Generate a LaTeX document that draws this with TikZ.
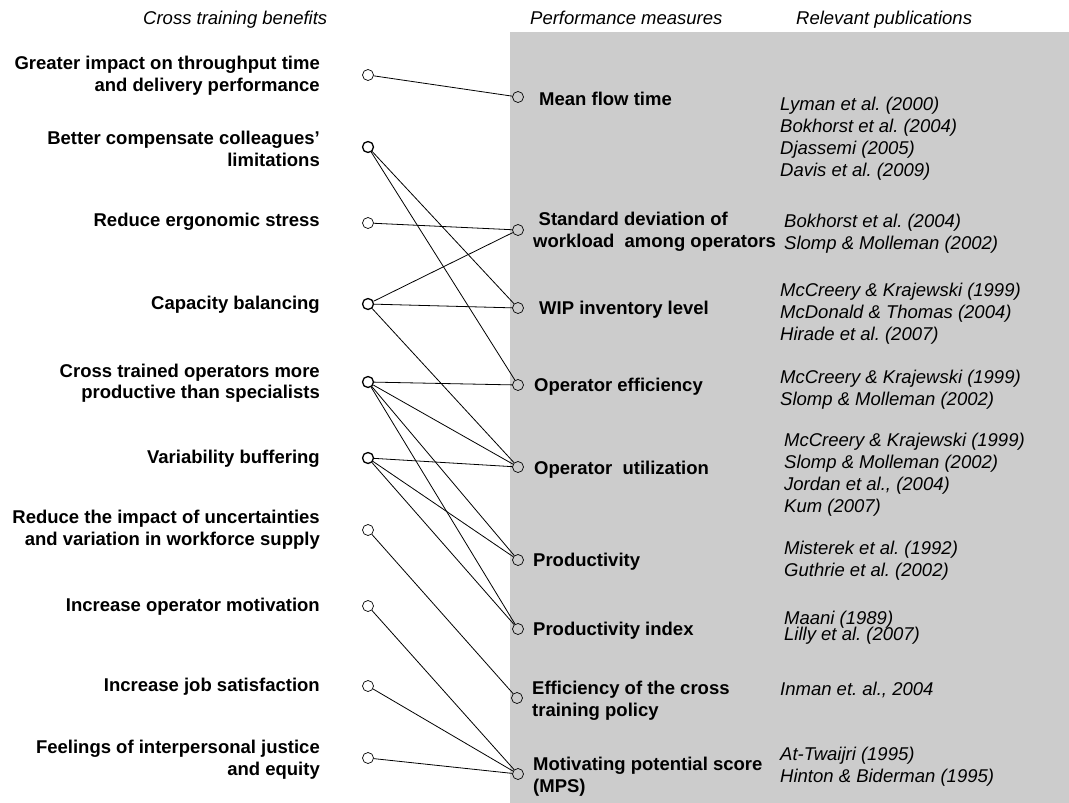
\documentclass[tikz,border=0pt]{standalone}
\usepackage{fontspec}
\setmainfont{Liberation Sans}
\definecolor{panel}{RGB}{204,204,204}
\begin{document}
\frenchspacing
\begin{tikzpicture}[x=1pt,y=-1pt,
  dot/.style={circle,draw,line width=0.7pt,minimum size=11pt,inner sep=0pt},
  hub/.style={dot,line width=1.3pt},
  lab/.style={font=\fontsize{18.5}{21.5}\selectfont\bfseries\frenchspacing,inner sep=0pt,align=right,anchor=east,yshift=-2pt},
  meas/.style={font=\fontsize{18.5}{22}\selectfont\bfseries\frenchspacing,inner sep=0pt,align=left,anchor=west,yshift=-2.5pt},
  pub/.style={font=\fontsize{18.5}{22}\selectfont\itshape\frenchspacing,inner sep=0pt,align=left,anchor=west,yshift=-2.8pt},
  hdr/.style={font=\fontsize{18.5}{22}\selectfont\itshape,inner sep=0pt,anchor=base west},
  link/.style={line width=0.8pt}]
\useasboundingbox (0,0) rectangle (1069,803);
\fill[panel] (510,32) rectangle (1069,803);

% headers
\node[hdr] (h1) at (143,24.5) {Cross training benefits};
\node[hdr] (h2) at (530,24.5) {Performance measures};
\node[hdr] (h3) at (796,24.5) {Relevant publications};

% benefits
\node[lab] (tb1) at (320,73.5) {Greater impact on throughput time\\and delivery performance};
\node[lab] (tb2) at (320,147) {Better compensate colleagues’\\limitations};
\node[lab] (tb3) at (320,220) {Reduce ergonomic stress};
\node[lab] (tb4) at (320,303) {Capacity balancing};
\node[lab] (tb5) at (320,381) {Cross trained operators more\\productive than specialists};
\node[lab] (tb6) at (320,457) {Variability buffering};
\node[lab] (tb7) at (320,527.5) {Reduce the impact of uncertainties\\and variation in workforce supply};
\node[lab] (tb8) at (320,605) {Increase operator motivation};
\node[lab] (tb9) at (320,685) {Increase job satisfaction};
\node[lab] (tb10) at (320,757.5) {Feelings of interpersonal justice\\and equity};

\node[dot] (b1) at (368,75) {};
\node[hub] (b2) at (368,147) {};
\node[dot] (b3) at (368,223) {};
\node[hub] (b4) at (368,304) {};
\node[hub] (b5) at (368,382) {};
\node[hub] (b6) at (368,458) {};
\node[dot] (b7) at (368,530) {};
\node[dot] (b8) at (368,606) {};
\node[dot] (b9) at (368,686) {};
\node[dot] (b10) at (368,758) {};

% measures
\node[dot] (m1) at (518,97) {};
\node[dot] (m2) at (518,230) {};
\node[dot] (m3) at (518,308) {};
\node[dot] (m4) at (518,385) {};
\node[dot] (m5) at (518,467) {};
\node[dot] (m6) at (518,560) {};
\node[dot] (m7) at (518,629) {};
\node[dot] (m8) at (517,698) {};
\node[dot] (m9) at (518,774) {};

\node[meas] (tm1) at (539,96) {Mean flow time};
\node[meas] (tm2) at (533,229) {\hspace*{5.5pt}Standard deviation of\\workload\ \ among operators};
\node[meas] (tm3) at (539,307) {WIP inventory level};
\node[meas] (tm4) at (534,384) {Operator efficiency};
\node[meas] (tm5) at (534,467) {Operator\ \ utilization};
\node[meas] (tm6) at (533,559) {Productivity};
\node[meas] (tm7) at (533,628) {Productivity index};
\node[meas] (tm8) at (532,698) {Efficiency of the cross\\training policy};
\node[meas] (tm9) at (533,774) {Motivating potential score\\(MPS)};

% publications
\node[pub] (p1) at (780,136) {Lyman et al. (2000)\\Bokhorst et al. (2004)\\Djassemi (2005)\\Davis et al. (2009)};
\node[pub] (p2) at (784,230.5) {Bokhorst et al. (2004)\\Slomp \& Molleman (2002)};
\node[pub] (p3) at (780,311) {McCreery \& Krajewski (1999)\\McDonald \& Thomas (2004)\\Hirade et al. (2007)};
\node[pub] (p4) at (780,386.5) {McCreery \& Krajewski (1999)\\Slomp \& Molleman (2002)};
\node[pub] (p5) at (784,471.5) {McCreery \& Krajewski (1999)\\Slomp \& Molleman (2002)\\Jordan et al., (2004)\\Kum (2007)};
\node[pub] (p6) at (784,558) {Misterek et al. (1992)\\Guthrie et al. (2002)};
\node[pub] (p7a) at (784,617) {Maani (1989)};
\node[pub] (p7b) at (784,633) {Lilly et al. (2007)};
\node[pub] (p8) at (780,687) {Inman et. al., 2004};
\node[pub] (p9) at (780,763.5) {At-Twaijri (1995)\\Hinton \& Biderman (1995)};

% links
\draw[link] (b1) -- (m1);
\draw[link] (b2) -- (m3);
\draw[link] (b2) -- (m4);
\draw[link] (b3) -- (m2);
\draw[link] (b4) -- (m2);
\draw[link] (b4) -- (m3);
\draw[link] (b4) -- (m5);
\draw[link] (b5) -- (m4);
\draw[link] (b5) -- (m5);
\draw[link] (b5) -- (m6);
\draw[link] (b5) -- (m7);
\draw[link] (b6) -- (m5);
\draw[link] (b6) -- (m6);
\draw[link] (b6) -- (m7);
\draw[link] (b7) -- (m8);
\draw[link] (b8) -- (m9);
\draw[link] (b9) -- (m9);
\draw[link] (b10) -- (m9);
\end{tikzpicture}
\end{document}
